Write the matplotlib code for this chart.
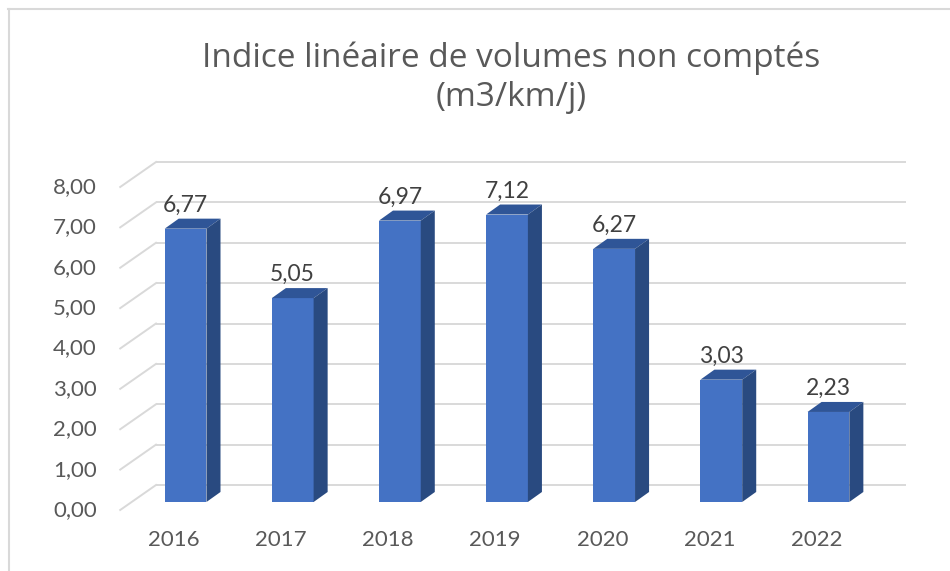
import numpy as np
import matplotlib.pyplot as plt
from matplotlib.patches import Polygon
from matplotlib.lines import Line2D

annees = ['2016', '2017', '2018', '2019', '2020', '2021', '2022']
indice = [6.77, 5.05, 6.97, 7.12, 6.27, 3.03, 2.23]
graduations = [0, 1, 2, 3, 4, 5, 6, 7, 8]

plt.rcParams['font.family'] = ['Lato', 'DejaVu Sans']
gris_texte = '#595959'
gris_grille = '#d9d9d9'
bleu_face = '#4472C4'
bleu_dessus = '#2F5597'
bleu_cote = '#294A80'

# decalages de la fausse 3D (unites des donnees)
larg = 0.39
prof_x, prof_y = 0.131, 0.248      # profondeur des barres
mur_x, mur_y = 0.224, 0.421        # mur du fond
avant_x, avant_y = -0.110, -0.198  # plan avant (etiquettes)

fig = plt.figure(figsize=(9.5, 5.71), dpi=100)
ax = fig.add_axes([132/950, 69/571, 750/950, 323/571])
ax.set_xlim(-0.5, 6.5)
ax.set_ylim(0, 8)
ax.axis('off')

# grille : mur du fond + lignes obliques a gauche
for g in graduations:
    ax.plot([-0.5 + mur_x, 6.5 + mur_x], [g + mur_y, g + mur_y], color=gris_grille,
            lw=1.4, zorder=0, clip_on=False, solid_capstyle='butt')
    ax.plot([-0.5 + avant_x, -0.5 + mur_x], [g + avant_y, g + mur_y], color=gris_grille,
            lw=1.4, zorder=0, clip_on=False)
    ax.text(-0.83, g + avant_y, ('%.2f' % g).replace('.', ','),
            ha='right', va='center', fontsize=16, color=gris_texte)

x = np.arange(len(annees))
ax.bar(x, indice, width=larg, color=bleu_face, zorder=3, clip_on=False, linewidth=0)
for xi, v in zip(x, indice):
    g, d = xi - larg/2, xi + larg/2
    dessus = Polygon([(g, v), (d, v), (d + prof_x, v + prof_y), (g + prof_x, v + prof_y)],
                     closed=True, facecolor=bleu_dessus, edgecolor='none', zorder=3, clip_on=False)
    cote = Polygon([(d, 0), (d + prof_x, prof_y), (d + prof_x, v + prof_y), (d, v)],
                   closed=True, facecolor=bleu_cote, edgecolor='none', zorder=3, clip_on=False)
    ax.add_patch(dessus)
    ax.add_patch(cote)
    ax.text(xi, v + 0.42, ('%.2f' % v).replace('.', ','), ha='center', va='baseline',
            fontsize=16.5, color='#404040', zorder=4)
    ax.text(xi + avant_x, -0.95, annees[xi], ha='center', va='center',
            fontsize=16, color=gris_texte)

fig.text(511/950, 0.864, 'Indice linéaire de volumes non comptés\n(m3/km/j)',
         ha='center', va='center', fontsize=24, color=gris_texte, linespacing=1.22,
         family=['Open Sans', 'DejaVu Sans'])

# cadre du graphique
fig.add_artist(Line2D([8.5/950, 8.5/950], [0, 562/571], color=gris_grille, lw=1.5))
fig.add_artist(Line2D([8/950, 1], [562/571, 562/571], color=gris_grille, lw=1.5))

fig.savefig('out.png', dpi=100, facecolor='white')
